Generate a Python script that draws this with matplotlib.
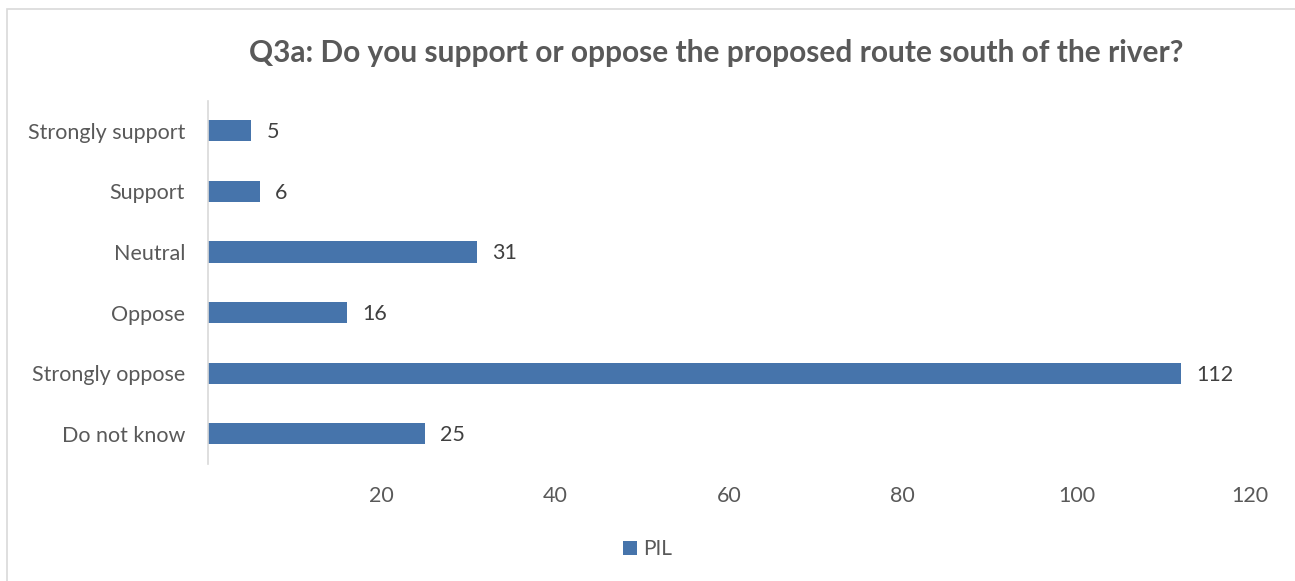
import matplotlib.pyplot as plt
from matplotlib.patches import Rectangle

categories = ["Strongly support", "Support", "Neutral", "Oppose", "Strongly oppose", "Do not know"]
counts = [5, 6, 31, 16, 112, 25]
series_name = "PIL"
x_ticks = [20, 40, 60, 80, 100, 120]

bar_color = "#4674AB"
text_gray = "#595959"

plt.rcParams["font.family"] = ["Lato", "DejaVu Sans"]

fig = plt.figure(figsize=(12.95, 5.81), dpi=100)
ax = fig.add_axes([0.1606, 0.2014, 0.8047, 0.6256])

ypos = list(range(len(categories)))
ax.barh(ypos, counts, height=0.35, color=bar_color, label=series_name)

for y, v in zip(ypos, counts):
    ax.annotate(str(v), (v, y), xytext=(11, -1), textcoords="offset points",
                va="center", ha="left", fontsize=15.5, color="#404040")

ax.set_xlim(0, 120)
ax.set_ylim(len(categories) - 0.5, -0.5)
ax.set_yticks(ypos)
ax.set_yticklabels(categories, fontsize=15.5, color=text_gray)
ax.set_xticks(x_ticks)
ax.set_xticklabels([str(t) for t in x_ticks], fontsize=15.5, color=text_gray)
ax.tick_params(axis="both", length=0)
ax.tick_params(axis="x", pad=16)
ax.tick_params(axis="y", pad=16.5)

for side in ["top", "right", "bottom"]:
    ax.spines[side].set_visible(False)
ax.spines["left"].set_color("#D9D9D9")
ax.spines["left"].set_linewidth(1.2)

fig.text(0.553, 0.908, "Q3a: Do you support or oppose the proposed route south of the river?",
         ha="center", va="center", fontsize=21.5, fontweight="bold", color=text_gray)

ax.legend(loc="center", bbox_to_anchor=(0.5, 0.055), bbox_transform=fig.transFigure,
          frameon=False, fontsize=15, labelcolor=text_gray,
          handlelength=0.65, handleheight=0.65, handletextpad=0.3)

# chart area border
fig.patches.append(Rectangle((7 / 1295, -0.05), 1.1, 1 - 9 / 581 + 0.05,
                             transform=fig.transFigure, fill=False,
                             edgecolor="#D9D9D9", linewidth=1.2))

fig.savefig("out.png", dpi=100)
